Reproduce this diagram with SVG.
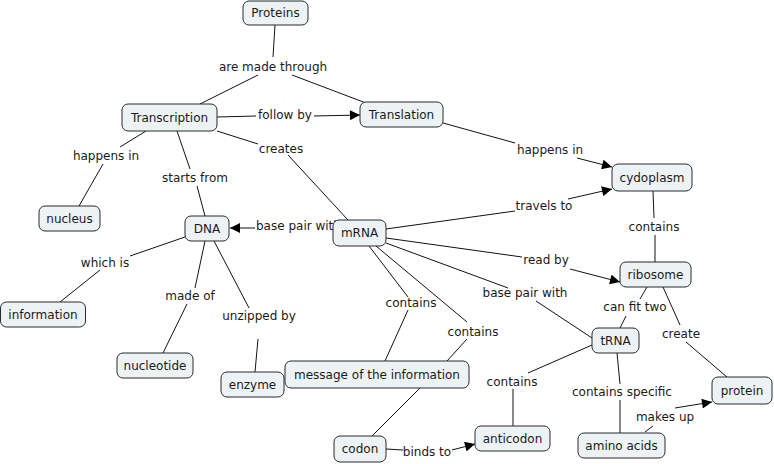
<svg xmlns="http://www.w3.org/2000/svg" width="774" height="464" viewBox="0 0 774 464">
<style>
.n rect{fill:#EDF3F5;stroke:#2a2a2a;stroke-width:1;}
text{font-family:"DejaVu Sans",Verdana,sans-serif;font-size:12px;fill:#1a1a1a;}
.n text{text-anchor:middle;}
.l{text-anchor:middle;}
#connectors path{fill:none;stroke:#111;stroke-width:1;}
</style>
<defs>
<marker id="arr" viewBox="0 0 10 10" refX="10" refY="5" markerWidth="11" markerHeight="10" orient="auto" markerUnits="userSpaceOnUse"><path d="M0,0 L10,5 L0,10 z" fill="#000"/></marker>
</defs>
<rect width="774" height="464" fill="#fff"/>
<g id="connectors">
<path d="M275,25 L273,57"/>
<path d="M258,75 L200,104"/>
<path d="M292,75 L366,103"/>
<path d="M217,117 L256,116"/>
<path d="M314,116 L360,115" marker-end="url(#arr)"/>
<path d="M146,131 L120,147"/>
<path d="M103,164 L79,206"/>
<path d="M177,131 L190,169"/>
<path d="M197,186 L205,216"/>
<path d="M217,131 L258,144"/>
<path d="M288,155 L348,220"/>
<path d="M255,228 L230,228" marker-end="url(#arr)"/>
<path d="M185,237 L130,256"/>
<path d="M100,270 L60,302"/>
<path d="M205,241 L195,288"/>
<path d="M187,304 L163,353"/>
<path d="M214,241 L249,308"/>
<path d="M258,339 L255,372"/>
<path d="M386,229 L515,211"/>
<path d="M568,199 L612,189" marker-end="url(#arr)"/>
<path d="M443,123 L515,143"/>
<path d="M577,158 L612,167" marker-end="url(#arr)"/>
<path d="M653,191 L654,218"/>
<path d="M655,235 L655,262"/>
<path d="M386,238 L522,257"/>
<path d="M570,269 L620,282" marker-end="url(#arr)"/>
<path d="M386,243 L508,288"/>
<path d="M536,301 L592,338"/>
<path d="M647,287 L640,299"/>
<path d="M626,316 L620,328"/>
<path d="M663,287 L680,325"/>
<path d="M686,342 L727,377"/>
<path d="M369,246 L408,297"/>
<path d="M408,310 L385,361"/>
<path d="M376,246 L467,322"/>
<path d="M467,339 L447,361"/>
<path d="M420,388 L372,436"/>
<path d="M386,449 L403,450"/>
<path d="M452,450 L475,444" marker-end="url(#arr)"/>
<path d="M592,345 L528,373"/>
<path d="M513,389 L513,426"/>
<path d="M617,353 L620,384"/>
<path d="M620,400 L620,433"/>
<path d="M645,432 L653,426"/>
<path d="M675,408 L712,402" marker-end="url(#arr)"/>
</g>
<g id="labels">
<text class="l" x="273" y="71">are made through</text>
<text class="l" x="285" y="119">follow by</text>
<text class="l" x="106" y="160">happens in</text>
<text class="l" x="195" y="182">starts from</text>
<text class="l" x="281" y="153">creates</text>
<text x="256" y="230">base pair with</text>
<text class="l" x="105" y="267">which is</text>
<text class="l" x="190" y="300">made of</text>
<text class="l" x="259" y="320">unzipped by</text>
<text class="l" x="544" y="210">travels to</text>
<text class="l" x="550" y="154">happens in</text>
<text class="l" x="654" y="231">contains</text>
<text class="l" x="546" y="264">read by</text>
<text class="l" x="525" y="297">base pair with</text>
<text class="l" x="635" y="311">can fit two</text>
<text class="l" x="681" y="338">create</text>
<text class="l" x="411" y="307">contains</text>
<text class="l" x="473" y="336">contains</text>
<text class="l" x="427" y="456">binds to</text>
<text class="l" x="512" y="386">contains</text>
<text class="l" x="622" y="396">contains specific</text>
<text class="l" x="665" y="421">makes up</text>
</g>
<g id="n-proteins" class="n"><rect x="243" y="1" width="65" height="24" rx="6"/><text x="275.5" y="17">Proteins</text></g>
<g id="n-transcription" class="n"><rect x="122" y="104" width="95" height="27" rx="6"/><text x="169.5" y="121.5">Transcription</text></g>
<g id="n-translation" class="n"><rect x="360" y="102" width="83" height="25" rx="6"/><text x="401.5" y="118.5">Translation</text></g>
<g id="n-nucleus" class="n"><rect x="39" y="206" width="61" height="25" rx="6"/><text x="69.5" y="222.5">nucleus</text></g>
<g id="n-dna" class="n"><rect x="185" y="216" width="44" height="25" rx="6"/><text x="207" y="232.5">DNA</text></g>
<g id="n-mrna" class="n"><rect x="333" y="220" width="53" height="26" rx="6"/><text x="359.5" y="237">mRNA</text></g>
<g id="n-information" class="n"><rect x="0.5" y="302" width="85" height="25" rx="6"/><text x="43" y="318.5">information</text></g>
<g id="n-cydoplasm" class="n"><rect x="612" y="164" width="80" height="27" rx="6"/><text x="652" y="181.5">cydoplasm</text></g>
<g id="n-ribosome" class="n"><rect x="620" y="262" width="71" height="25" rx="6"/><text x="655.5" y="278.5">ribosome</text></g>
<g id="n-trna" class="n"><rect x="592" y="328" width="47" height="25" rx="6"/><text x="615.5" y="344.5">tRNA</text></g>
<g id="n-nucleotide" class="n"><rect x="117" y="353" width="76" height="25" rx="6"/><text x="155" y="369.5">nucleotide</text></g>
<g id="n-enzyme" class="n"><rect x="221" y="372" width="63" height="25" rx="6"/><text x="252.5" y="388.5">enzyme</text></g>
<g id="n-message" class="n"><rect x="285" y="361" width="184" height="27" rx="6"/><text x="377" y="378.5">message of the information</text></g>
<g id="n-codon" class="n"><rect x="334" y="436" width="52" height="26" rx="6"/><text x="360" y="453">codon</text></g>
<g id="n-anticodon" class="n"><rect x="475" y="426" width="75" height="25" rx="6"/><text x="512.5" y="442.5">anticodon</text></g>
<g id="n-aminoacids" class="n"><rect x="578" y="433" width="87" height="25" rx="6"/><text x="621.5" y="449.5">amino acids</text></g>
<g id="n-protein" class="n"><rect x="712" y="377" width="60" height="27" rx="6"/><text x="742" y="394.5">protein</text></g>
</svg>
